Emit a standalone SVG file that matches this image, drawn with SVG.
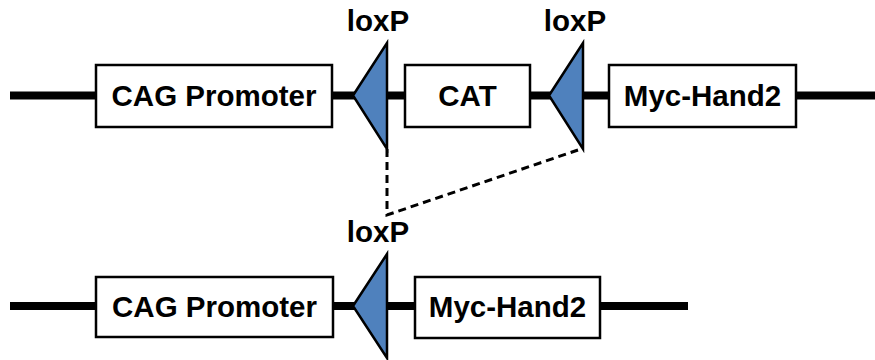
<svg xmlns="http://www.w3.org/2000/svg" width="875" height="360" viewBox="0 0 875 360">
<style>
.dna{stroke:#000;stroke-width:8;fill:none}
.box{fill:#fff;stroke:#000;stroke-width:2.5}
.lox{fill:#4F81BD;stroke:#000;stroke-width:2.5;stroke-linejoin:miter}
.lbl{font-family:"Liberation Sans",Arial,sans-serif;font-weight:bold;font-size:29.5px;fill:#000;text-anchor:middle}
.dash{stroke:#000;stroke-width:3;stroke-dasharray:8,5;fill:none}
</style>
<rect width="875" height="360" fill="#fff"/>
<g id="backbones">
<line class="dna" x1="10" y1="95.5" x2="875" y2="95.5"/>
<line class="dna" x1="10" y1="306" x2="688" y2="306"/>
</g>
<g id="connectors">
<polyline class="dash" points="387,149 387,215 578,150"/>
</g>
<g id="cag1"><rect class="box" x="96" y="65" width="236" height="62"/><text class="lbl" x="214" y="106">CAG Promoter</text></g>
<g id="loxp1"><polygon class="lox" points="353,95.5 387,43 387,149"/><text class="lbl" x="378" y="31">loxP</text></g>
<g id="cat"><rect class="box" x="405" y="65" width="125" height="62"/><text class="lbl" x="467.5" y="106">CAT</text></g>
<g id="loxp2"><polygon class="lox" points="549,95.5 583,43 583,149"/><text class="lbl" x="575" y="31">loxP</text></g>
<g id="myc1"><rect class="box" x="609" y="65" width="187" height="62"/><text class="lbl" x="702.5" y="106">Myc-Hand2</text></g>
<g id="cag2"><rect class="box" x="96" y="277" width="237" height="60"/><text class="lbl" x="214.5" y="317">CAG Promoter</text></g>
<g id="loxp3"><polygon class="lox" points="353,306 387,254 387,358"/><text class="lbl" x="378" y="242">loxP</text></g>
<g id="myc2"><rect class="box" x="415" y="277" width="185" height="61"/><text class="lbl" x="507.5" y="317">Myc-Hand2</text></g>
</svg>
